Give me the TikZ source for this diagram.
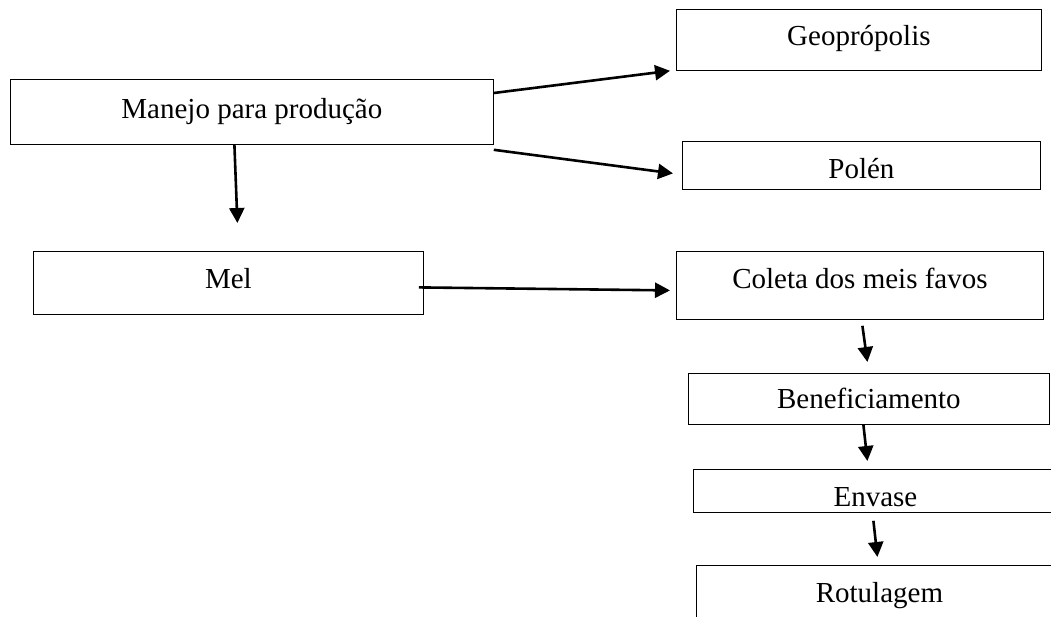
\documentclass[tikz,border=0pt]{standalone}
\usepackage{fontspec}
\setmainfont{Liberation Serif}
\usetikzlibrary{arrows.meta}

\tikzset{
    box/.style 2 args={draw, rectangle, line width=0.8pt, anchor=north west,
        inner ysep=0pt, text height=#1, text depth=#2,
        font=\fontsize{29}{34}\selectfont},
    seta/.style={line width=2.6pt, -{Triangle[length=15pt,width=15pt]}}
}

\begin{document}
\begin{tikzpicture}[x=1pt,y=-1pt]
        % Page frame
        \clip (0,0) rectangle (1051,616);

        % Boxes
        \node[box={39pt}{26pt}, minimum width=483pt] (manejo) at (10,79) {Manejo para produção};
        \node[box={36pt}{25pt}, minimum width=365pt] (geo) at (676,9) {Geoprópolis};
        \node[box={37pt}{11pt}, minimum width=358pt] (polen) at (682,141) {Polén};
        \node[box={37pt}{26pt}, minimum width=390pt] (mel) at (33,251) {Mel};
        \node[box={37pt}{31pt}, minimum width=367pt] (coleta) at (676,251) {Coleta dos meis favos};
        \node[box={35pt}{16pt}, minimum width=361pt] (benef) at (688,373) {Beneficiamento};
        \node[box={37pt}{6pt}, minimum width=364pt] (envase) at (693,469) {Envase};
        \node[box={37pt}{40pt}, minimum width=366pt] (rotulo) at (696,565) {Rotulagem};

        % Arrows
        \draw[seta] ([yshift=-14pt]manejo.north east) -- ([xshift=-6pt]geo.south west);
        \draw[seta] ([yshift=-5pt]manejo.south east) -- ([xshift=-9pt,yshift=-8pt]polen.west);
        \draw[seta] ([xshift=-17.5pt]manejo.south) -- ([xshift=9pt,yshift=28pt]mel.north);
        \draw[seta] ([xshift=-5pt,yshift=-4.5pt]mel.east) -- ([xshift=-6pt,yshift=-5pt]coleta.west);
        \draw[seta] ([xshift=2.5pt,yshift=-6pt]coleta.south) -- ([xshift=-1.5pt,yshift=11pt]benef.north);
        \draw[seta] ([xshift=-5.5pt]benef.south) -- ([xshift=-8pt,yshift=8pt]envase.north);
        \draw[seta] ([xshift=-2pt,yshift=-8pt]envase.south) -- ([xshift=-2pt,yshift=8pt]rotulo.north);
\end{tikzpicture}
\end{document}
